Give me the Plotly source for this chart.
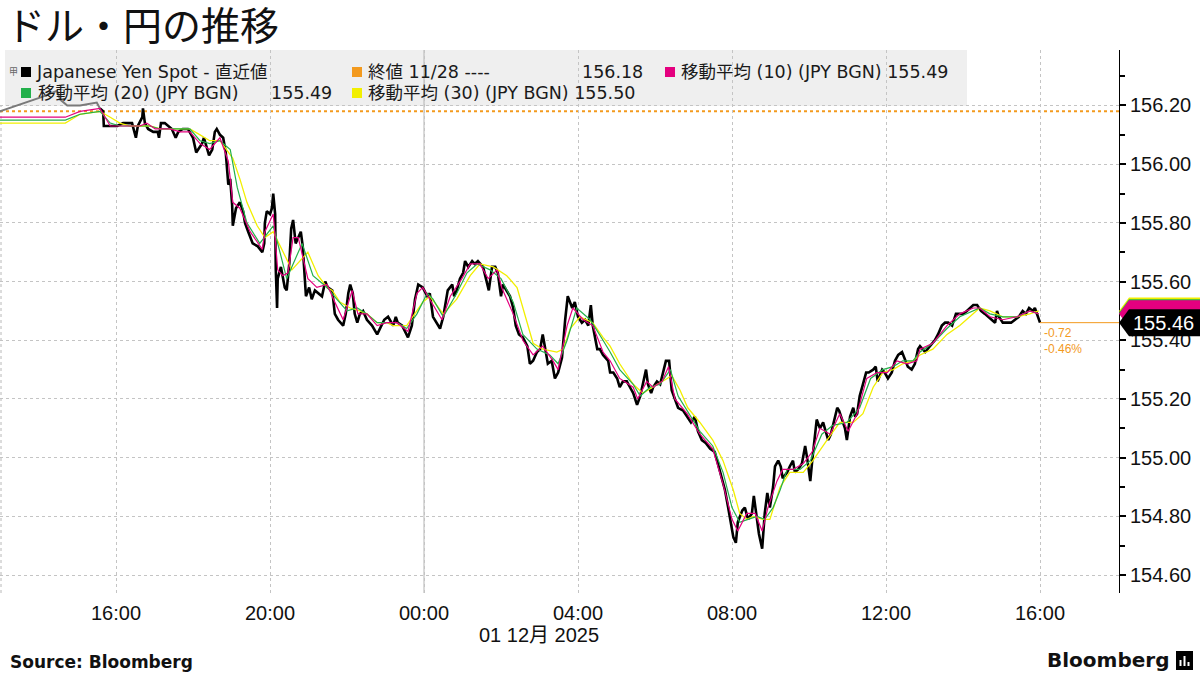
import pandas as pd
import plotly.graph_objects as go

# ---------------- data (minutes since 2025-11-30 00:00) ----------------
BASE = pd.Timestamp("2025-11-30 00:00")

spot_minutes = [
    935, 940, 941, 948, 954, 962, 971, 985, 991, 994, 1001, 1002, 1005, 1010, 1018, 1025, 1027, 1030, 1036, 1041,
    1047, 1053, 1057, 1064, 1072, 1080, 1085, 1088, 1094, 1097, 1102, 1105, 1110, 1114, 1117, 1122, 1127, 1131, 1135, 1138,
    1141, 1142, 1147, 1153, 1158, 1161, 1166, 1173, 1181, 1188, 1191,
    1192, 1195, 1200, 1203, 1205, 1208, 1209, 1211, 1212, 1217, 1220, 1223, 1226, 1230, 1233, 1236, 1240, 1244, 1248, 1251,
    1253, 1256, 1261, 1265, 1270, 1275, 1281, 1286, 1290, 1297, 1301, 1306, 1314, 1318, 1322, 1325, 1329, 1332, 1336, 1340,
    1345, 1351, 1359, 1367, 1371, 1378, 1384, 1392, 1396, 1399, 1406, 1412, 1415, 1421, 1426, 1431, 1438, 1445, 1449,
    1454, 1460, 1465, 1470, 1474, 1477, 1484, 1487, 1491, 1496, 1501, 1504, 1509, 1515, 1519, 1524, 1532, 1538, 1541, 1546,
    1551, 1555, 1560, 1563, 1569, 1574, 1579, 1583, 1588, 1594, 1601, 1605, 1610, 1616, 1621, 1625, 1629, 1633, 1639, 1644,
    1649, 1655, 1660, 1664, 1671, 1675, 1680, 1686, 1691, 1696, 1700, 1703, 1710,
    1714, 1719, 1727, 1730, 1735, 1741, 1745, 1750, 1756, 1761, 1766, 1772, 1777, 1781, 1786, 1789, 1794, 1797, 1803, 1808,
    1812, 1817, 1822, 1826, 1831, 1836, 1844, 1850, 1856, 1862, 1867, 1873, 1879, 1886, 1893, 1898, 1904, 1909, 1914, 1918,
    1922, 1926, 1929, 1936, 1940, 1945, 1951, 1954, 1959, 1962, 1967,
    1971, 1975, 1979, 1984, 1987, 1992, 1996, 1999, 2006, 2010, 2015, 2018, 2023, 2029, 2034, 2037, 2042, 2045, 2049, 2052,
    2057, 2062, 2066, 2070, 2074, 2079, 2084, 2087, 2093, 2096, 2099, 2104, 2109, 2112, 2115, 2119, 2124, 2129, 2133, 2140,
    2144, 2147, 2154, 2158, 2163, 2169, 2174, 2179, 2185, 2190, 2194, 2200, 2205, 2210,
    2213, 2221, 2228, 2236, 2241, 2247, 2252, 2257, 2263, 2269, 2274, 2280, 2286, 2291, 2296, 2302, 2308, 2314, 2319, 2325,
    2330, 2333, 2336, 2342, 2349, 2355, 2361, 2367, 2373, 2378, 2383, 2389, 2392, 2395, 2400,
]
spot_values = [
    156.19, 156.18, 156.13, 156.13, 156.13, 156.13, 156.14, 156.14, 156.09, 156.13, 156.16, 156.19, 156.14, 156.12, 156.11, 156.11, 156.09, 156.14, 156.14, 156.13,
    156.12, 156.09, 156.11, 156.12, 156.12, 156.09, 156.04, 156.05, 156.07, 156.09, 156.05, 156.03, 156.05, 156.11, 156.12, 156.10, 156.09, 156.04, 155.93, 155.95,
    155.86, 155.79, 155.85, 155.87, 155.84, 155.80, 155.77, 155.73, 155.72, 155.70, 155.73,
    155.80, 155.84, 155.83, 155.85, 155.90, 155.83, 155.64, 155.51, 155.61, 155.65, 155.61, 155.58, 155.57, 155.66, 155.78, 155.81, 155.73, 155.75, 155.77, 155.72,
    155.65, 155.55, 155.58, 155.54, 155.57, 155.56, 155.55, 155.60, 155.58, 155.57, 155.49, 155.47, 155.45, 155.49, 155.56, 155.59, 155.56, 155.49, 155.46, 155.49,
    155.50, 155.47, 155.45, 155.42, 155.44, 155.47, 155.48, 155.45, 155.48, 155.46, 155.45, 155.42, 155.41, 155.45, 155.54, 155.59, 155.58, 155.55, 155.56,
    155.48, 155.46, 155.44, 155.48, 155.54, 155.57, 155.59, 155.55, 155.57, 155.61, 155.63, 155.67, 155.65, 155.67, 155.66, 155.67, 155.65, 155.59, 155.57, 155.65,
    155.65, 155.63, 155.55, 155.59, 155.57, 155.55, 155.51, 155.45, 155.42, 155.41, 155.38, 155.32, 155.33, 155.36, 155.37, 155.42, 155.37, 155.32, 155.33, 155.27,
    155.29, 155.34, 155.47, 155.55, 155.51, 155.53, 155.48, 155.46, 155.47, 155.45, 155.52, 155.45, 155.37,
    155.37, 155.35, 155.33, 155.29, 155.29, 155.27, 155.24, 155.26, 155.26, 155.24, 155.22, 155.18, 155.21, 155.25, 155.30, 155.25, 155.22, 155.24, 155.26, 155.25,
    155.29, 155.33, 155.33, 155.23, 155.20, 155.17, 155.16, 155.14, 155.12, 155.14, 155.09, 155.06, 155.05, 155.03, 155.02, 154.98, 154.93, 154.89, 154.83, 154.78,
    154.73, 154.71, 154.78, 154.82, 154.83, 154.79, 154.81, 154.87, 154.79, 154.74, 154.69,
    154.81, 154.88, 154.83, 154.90, 154.97, 154.99, 154.97, 154.93, 154.95, 154.97, 154.99, 154.95, 154.96, 154.98, 155.04, 155.00, 154.92, 154.99, 155.06, 155.13,
    155.10, 155.12, 155.09, 155.06, 155.08, 155.13, 155.17, 155.16, 155.12, 155.10, 155.06, 155.14, 155.17, 155.14, 155.15, 155.21, 155.25, 155.29, 155.29, 155.30,
    155.31, 155.26, 155.30, 155.29, 155.27, 155.29, 155.33, 155.35, 155.36, 155.33, 155.31, 155.30, 155.32, 155.37,
    155.38, 155.36, 155.38, 155.40, 155.42, 155.45, 155.46, 155.46, 155.45, 155.49, 155.49, 155.49, 155.50, 155.51, 155.52, 155.52, 155.50, 155.49, 155.48, 155.47,
    155.46, 155.50, 155.48, 155.46, 155.46, 155.46, 155.47, 155.48, 155.50, 155.49, 155.51, 155.50, 155.51, 155.49, 155.46,
]

# thin grey segment before the session
pre_minutes = [779, 846, 868, 873, 884, 904, 930, 935]
pre_values = [156.18, 156.23, 156.25, 156.22, 156.20, 156.20, 156.21, 156.19]

ma10_minutes = [
    779, 881, 904, 930, 935, 951, 966, 982, 997, 1008, 1021, 1029, 1044, 1060, 1075, 1091, 1106, 1122, 1135, 1142,
    1153, 1169, 1188, 1192, 1205, 1212, 1220, 1228, 1236, 1244, 1251, 1259, 1273, 1289, 1301, 1314, 1328, 1337, 1351, 1367,
    1382, 1398, 1415, 1429, 1438, 1449, 1468, 1481, 1499, 1512, 1527, 1540, 1554, 1561, 1579, 1594, 1610, 1625, 1641, 1649,
    1663, 1672, 1688, 1703, 1719, 1730, 1745, 1766, 1773, 1787, 1797, 1811, 1821, 1831, 1850, 1870, 1890, 1906, 1920, 1929,
    1943, 1956, 1967, 1976, 1990, 1999, 2015, 2031, 2045, 2057, 2073, 2088, 2101, 2115, 2130, 2146, 2162, 2177, 2193, 2208,
    2213, 2233, 2255, 2275, 2296, 2306, 2322, 2342, 2364, 2384, 2398,
]
ma10_values = [
    156.16, 156.16, 156.18, 156.19, 156.19, 156.13, 156.13, 156.13, 156.13, 156.14, 156.12, 156.12, 156.12, 156.11, 156.11, 156.07, 156.05, 156.09, 156.01, 155.87,
    155.85, 155.77, 155.71, 155.77, 155.83, 155.64, 155.62, 155.63, 155.75, 155.75, 155.68, 155.61, 155.58, 155.59, 155.53, 155.47, 155.57, 155.49, 155.49, 155.45,
    155.46, 155.46, 155.43, 155.56, 155.58, 155.54, 155.47, 155.55, 155.61, 155.66, 155.66, 155.61, 155.64, 155.58, 155.49, 155.40, 155.35, 155.38, 155.33, 155.30,
    155.45, 155.51, 155.47, 155.45, 155.36, 155.33, 155.27, 155.24, 155.20, 155.26, 155.24, 155.26, 155.31, 155.20, 155.15, 155.08, 155.03, 154.91, 154.79, 154.75,
    154.81, 154.81, 154.75, 154.83, 154.92, 154.96, 154.96, 154.98, 155.02, 155.10, 155.08, 155.15, 155.09, 155.15, 155.27, 155.29, 155.29, 155.33, 155.32, 155.33,
    155.37, 155.39, 155.45, 155.49, 155.51, 155.51, 155.48, 155.47, 155.48, 155.50, 155.49,
]

ma20_minutes = [
    779, 881, 904, 930, 935, 951, 966, 982, 997, 1013, 1029, 1044, 1060, 1075, 1091, 1106, 1122, 1138, 1149, 1164,
    1184, 1205, 1226, 1250, 1267, 1289, 1304, 1320, 1336, 1351, 1367, 1382, 1398, 1413, 1429, 1445, 1454, 1470, 1491, 1507,
    1523, 1543, 1560, 1579, 1594, 1616, 1636, 1649, 1663, 1678, 1699, 1719, 1730, 1745, 1766, 1777, 1792, 1808, 1824, 1836,
    1850, 1870, 1890, 1906, 1920, 1932, 1945, 1959, 1971, 1984, 1995, 2006, 2026, 2042, 2060, 2077, 2099, 2119, 2136, 2155,
    2171, 2186, 2202, 2213, 2233, 2255, 2275, 2296, 2306, 2322, 2342, 2364, 2384, 2398,
]
ma20_values = [
    156.15, 156.15, 156.17, 156.18, 156.18, 156.14, 156.13, 156.13, 156.13, 156.13, 156.12, 156.12, 156.12, 156.12, 156.08, 156.07, 156.08, 156.05, 155.92, 155.80,
    155.73, 155.79, 155.61, 155.73, 155.62, 155.58, 155.54, 155.50, 155.51, 155.49, 155.46, 155.46, 155.46, 155.44, 155.49, 155.56, 155.54, 155.48, 155.56, 155.63,
    155.66, 155.64, 155.61, 155.53, 155.42, 155.37, 155.35, 155.32, 155.40, 155.51, 155.47, 155.40, 155.36, 155.30, 155.25, 155.21, 155.24, 155.25, 155.30, 155.21,
    155.16, 155.09, 155.04, 154.95, 154.83, 154.78, 154.79, 154.80, 154.79, 154.83, 154.89, 154.96, 154.96, 154.99, 155.08, 155.11, 155.12, 155.17, 155.27, 155.30,
    155.31, 155.33, 155.33, 155.36, 155.39, 155.44, 155.48, 155.50, 155.51, 155.49, 155.48, 155.48, 155.50, 155.49,
]

ma30_minutes = [
    779, 881, 904, 930, 935, 951, 966, 982, 997, 1013, 1029, 1044, 1060, 1075, 1091, 1106, 1122, 1142, 1153, 1164,
    1180, 1192, 1205, 1234, 1259, 1275, 1289, 1297, 1309, 1325, 1340, 1351, 1367, 1382, 1392, 1413, 1438, 1449, 1470, 1491,
    1512, 1527, 1548, 1569, 1585, 1601, 1610, 1625, 1647, 1657, 1668, 1683, 1703, 1719, 1730, 1745, 1766, 1781, 1797, 1819,
    1826, 1839, 1851, 1870, 1890, 1906, 1922, 1932, 1943, 1953, 1968, 1979, 1995, 2010, 2031, 2046, 2068, 2088, 2109, 2124,
    2140, 2155, 2171, 2186, 2202, 2213, 2233, 2255, 2275, 2296, 2306, 2322, 2342, 2364, 2384, 2398,
]
ma30_values = [
    156.14, 156.14, 156.17, 156.18, 156.18, 156.16, 156.14, 156.13, 156.13, 156.13, 156.12, 156.12, 156.12, 156.12, 156.10, 156.08, 156.08, 156.02, 155.95, 155.87,
    155.79, 155.75, 155.77, 155.64, 155.70, 155.62, 155.58, 155.57, 155.53, 155.51, 155.50, 155.49, 155.46, 155.46, 155.45, 155.45, 155.53, 155.55, 155.49, 155.54,
    155.62, 155.66, 155.65, 155.62, 155.58, 155.46, 155.39, 155.37, 155.36, 155.37, 155.44, 155.48, 155.46, 155.41, 155.38, 155.32, 155.25, 155.22, 155.24, 155.27,
    155.28, 155.23, 155.17, 155.12, 155.06, 154.99, 154.89, 154.81, 154.79, 154.80, 154.79, 154.79, 154.90, 154.95, 154.95, 154.99, 155.06, 155.12, 155.12, 155.15,
    155.24, 155.29, 155.30, 155.32, 155.33, 155.35, 155.37, 155.42, 155.45, 155.49, 155.51, 155.50, 155.48, 155.48, 155.49, 155.50,
]

prev_close = 156.18
prev_close_date = "11/28"

y_ticks = [154.60, 154.80, 155.00, 155.20, 155.40, 155.60, 155.80, 156.00, 156.20]
x_tick_times = ["2025-11-30 16:00", "2025-11-30 20:00", "2025-12-01 00:00", "2025-12-01 04:00",
                "2025-12-01 08:00", "2025-12-01 12:00", "2025-12-01 16:00"]
x_tick_labels = ["16:00", "20:00", "00:00", "04:00", "08:00", "12:00", "16:00"]
day_start = "2025-12-01 00:00"
date_label = "01 12月 2025"

title_text = "ドル・円の推移"
name_spot = "Japanese Yen Spot - 直近値"
name_close = f"終値 {prev_close_date} ----"
name_ma10 = "移動平均 (10) (JPY BGN)"
name_ma20 = "移動平均 (20) (JPY BGN)"
name_ma30 = "移動平均 (30) (JPY BGN)"


def tm(mins):
    return list(BASE + pd.to_timedelta(pd.Series(mins), unit="min"))


# ---------------- layout constants ----------------
W, H = 1200, 675
ML, MR, MT, MB = 0, 81, 50, 82
PW, PH = W - ML - MR, H - MT - MB
X_RANGE = ["2025-11-30 12:59:12", "2025-12-01 18:03:06"]
Y_RANGE = [154.539, 156.389]
PX_PER_UNIT = PH / (Y_RANGE[1] - Y_RANGE[0])


def px(x):
    return (x - ML) / PW


def py(y):
    return (H - MB - y) / PH


BLACK = "#000000"
PINK = "#e4007f"
GREEN = "#23b04b"
YELLOW = "#f2ef00"
ORANGE = "#f39a1e"
GREY = "#7a7a7a"

fig = go.Figure()
fig.add_trace(go.Scatter(x=tm(pre_minutes), y=pre_values, mode="lines",
                         line=dict(color=GREY, width=2), hoverinfo="skip"))
fig.add_trace(go.Scatter(x=tm(spot_minutes), y=spot_values, mode="lines",
                         line=dict(color=BLACK, width=2.6), name=name_spot))
fig.add_trace(go.Scatter(x=tm(ma30_minutes), y=ma30_values, mode="lines",
                         line=dict(color=YELLOW, width=1.3), name=name_ma30))
fig.add_trace(go.Scatter(x=tm(ma20_minutes), y=ma20_values, mode="lines",
                         line=dict(color=GREEN, width=1.2), name=name_ma20))
fig.add_trace(go.Scatter(x=tm(ma10_minutes), y=ma10_values, mode="lines",
                         line=dict(color=PINK, width=1.2), name=name_ma10))

last_t = tm(spot_minutes)[-1]
last_v = spot_values[-1]
chg = last_v - prev_close
pct = chg / prev_close * 100

shapes = []
# legend background
shapes.append(dict(type="rect", xref="paper", yref="paper", x0=px(5), x1=px(967), y0=py(106), y1=py(50),
                   fillcolor="#efefef", line=dict(width=0), layer="below"))
# left dotted border line
shapes.append(dict(type="line", xref="paper", yref="paper", x0=px(1), x1=px(1), y0=0, y1=py(106),
                   line=dict(color="#b8b8b8", width=1, dash="dot"), layer="between"))
# day separator
shapes.append(dict(type="line", xref="x", yref="paper", x0=day_start, x1=day_start, y0=0, y1=1,
                   line=dict(color="#b4b4b4", width=1), layer="between"))
# previous close
shapes.append(dict(type="line", xref="paper", yref="y", x0=0, x1=1, y0=prev_close, y1=prev_close,
                   line=dict(color=ORANGE, width=2, dash="dot"), layer="between"))
# last price line
shapes.append(dict(type="line", xref="x", yref="y", x0=last_t, x1=X_RANGE[1], y0=last_v, y1=last_v,
                   line=dict(color=ORANGE, width=1), layer="above"))


def sq(x0, yc, color):
    shapes.append(dict(type="rect", xref="paper", yref="paper", x0=px(x0), x1=px(x0 + 10),
                       y0=py(yc + 5), y1=py(yc - 5), fillcolor=color, line=dict(width=0), layer="above"))


sq(21, 72, BLACK)
sq(352, 72, ORANGE)
sq(665, 72, PINK)
sq(21, 93, GREEN)
sq(352, 93, YELLOW)

# price tags drawn as shapes (tip + body)
half = 13.5 / PX_PER_UNIT


def tag(v, color):
    shapes.append(dict(type="path", xref="paper", yref="y",
                       path=(f"M {px(1119)},{v} L {px(1129)},{v + half} L {px(1205)},{v + half} "
                             f"L {px(1205)},{v - half} L {px(1129)},{v - half} Z"),
                       fillcolor=color, line=dict(width=0), layer="above"))


tag(ma30_values[-1], YELLOW)
tag(ma20_values[-1] + 0.004, GREEN)
tag(ma10_values[-1], PINK)
tag(last_v, BLACK)

# bloomberg icon
shapes.append(dict(type="rect", xref="paper", yref="paper", x0=px(1176), x1=px(1193), y0=py(670), y1=py(651),
                   fillcolor=BLACK, line=dict(width=0), layer="above"))
for bx, top in [(1180.5, 660), (1184.5, 656), (1188.5, 662)]:
    shapes.append(dict(type="line", xref="paper", yref="paper", x0=px(bx), x1=px(bx), y0=py(666), y1=py(top),
                       line=dict(color="white", width=2), layer="above"))

LEG_FONT = dict(family="DejaVu Sans, Noto Sans CJK JP", size=17.5, color="#1a1a1a")
ann = []


def txt(x, y, s, anchor="left", font=None):
    ann.append(dict(xref="paper", yref="paper", x=px(x), y=py(y), text=s, showarrow=False,
                    xanchor=anchor, yanchor="middle", font=font or LEG_FONT))


txt(13, 71, "甲", "center", dict(family="Noto Sans CJK JP", size=9, color="#666"))
txt(34, 72, name_spot)
txt(366, 72, name_close)
txt(645, 72, f"{prev_close:.2f}", "right")
txt(679, 72, f"{name_ma10} {ma10_values[-1]:.2f}")
txt(36, 93, name_ma20)
txt(334, 93, f"{ma20_values[-1]:.2f}", "right")
txt(366, 93, f"{name_ma30} {ma30_values[-1]:.2f}")

# change annotations
ann.append(dict(xref="x", yref="y", x=last_t, y=last_v, text=f"{chg:.2f}", showarrow=False,
                xanchor="left", yanchor="middle", xshift=2, yshift=-10,
                font=dict(family="Liberation Sans, Arial", size=12, color=ORANGE)))
ann.append(dict(xref="x", yref="y", x=last_t, y=last_v, text=f"{pct:.2f}%", showarrow=False,
                xanchor="left", yanchor="middle", xshift=2, yshift=-26,
                font=dict(family="Liberation Sans, Arial", size=12, color=ORANGE)))

# last price tag text
ann.append(dict(xref="paper", yref="y", x=px(1131), y=last_v, text=f"{last_v:.2f}", showarrow=False,
                xanchor="left", yanchor="middle",
                font=dict(family="Liberation Sans, Arial", size=20, color="white")))

# date label, source, logo
txt(539, 635, date_label, "center", dict(family="Liberation Sans, Noto Sans CJK JP", size=20, color="#111"))
txt(8, 662, "<b>Source: Bloomberg</b>", "left", dict(family="DejaVu Sans", size=17, color="#111"))
txt(1171, 660, "<b>Bloomberg</b>", "right", dict(family="DejaVu Sans", size=20, color="#111"))

fig.update_layout(
    width=W, height=H,
    margin=dict(l=ML, r=MR, t=MT, b=MB),
    paper_bgcolor="white", plot_bgcolor="white",
    showlegend=False,
    title=dict(text=title_text, x=6 / W, xanchor="left", xref="container",
               y=1 - 26 / H, yanchor="middle", yref="container",
               font=dict(family="Noto Sans CJK JP", size=39, color="#111")),
    xaxis=dict(type="date", range=X_RANGE, tickmode="array", tickvals=x_tick_times, ticktext=x_tick_labels,
               showgrid=True, gridcolor="#c4c4c4", griddash="dot", gridwidth=1,
               zeroline=False, showline=False, ticks="", ticklabelstandoff=6,
               tickfont=dict(family="Liberation Sans, Arial", size=20, color="#111")),
    yaxis=dict(side="right", range=Y_RANGE, tickmode="array", tickvals=y_ticks,
               ticktext=[f"{v:.2f}" for v in y_ticks],
               showgrid=True, gridcolor="#c4c4c4", griddash="dot", gridwidth=1,
               zeroline=False, showline=True, linecolor=BLACK, linewidth=1,
               ticks="outside", ticklen=6, tickcolor=BLACK, tickwidth=2,
               minor=dict(tick0=154.5, dtick=0.1, ticks="outside", ticklen=5, tickcolor=BLACK, showgrid=False),
               tickfont=dict(family="Liberation Sans, Arial", size=20, color="#111")),
    shapes=shapes,
    annotations=ann,
)

fig.write_html("out.html", config={"displayModeBar": False},
               post_script="document.body.style.margin='0';document.body.style.padding='0';")
